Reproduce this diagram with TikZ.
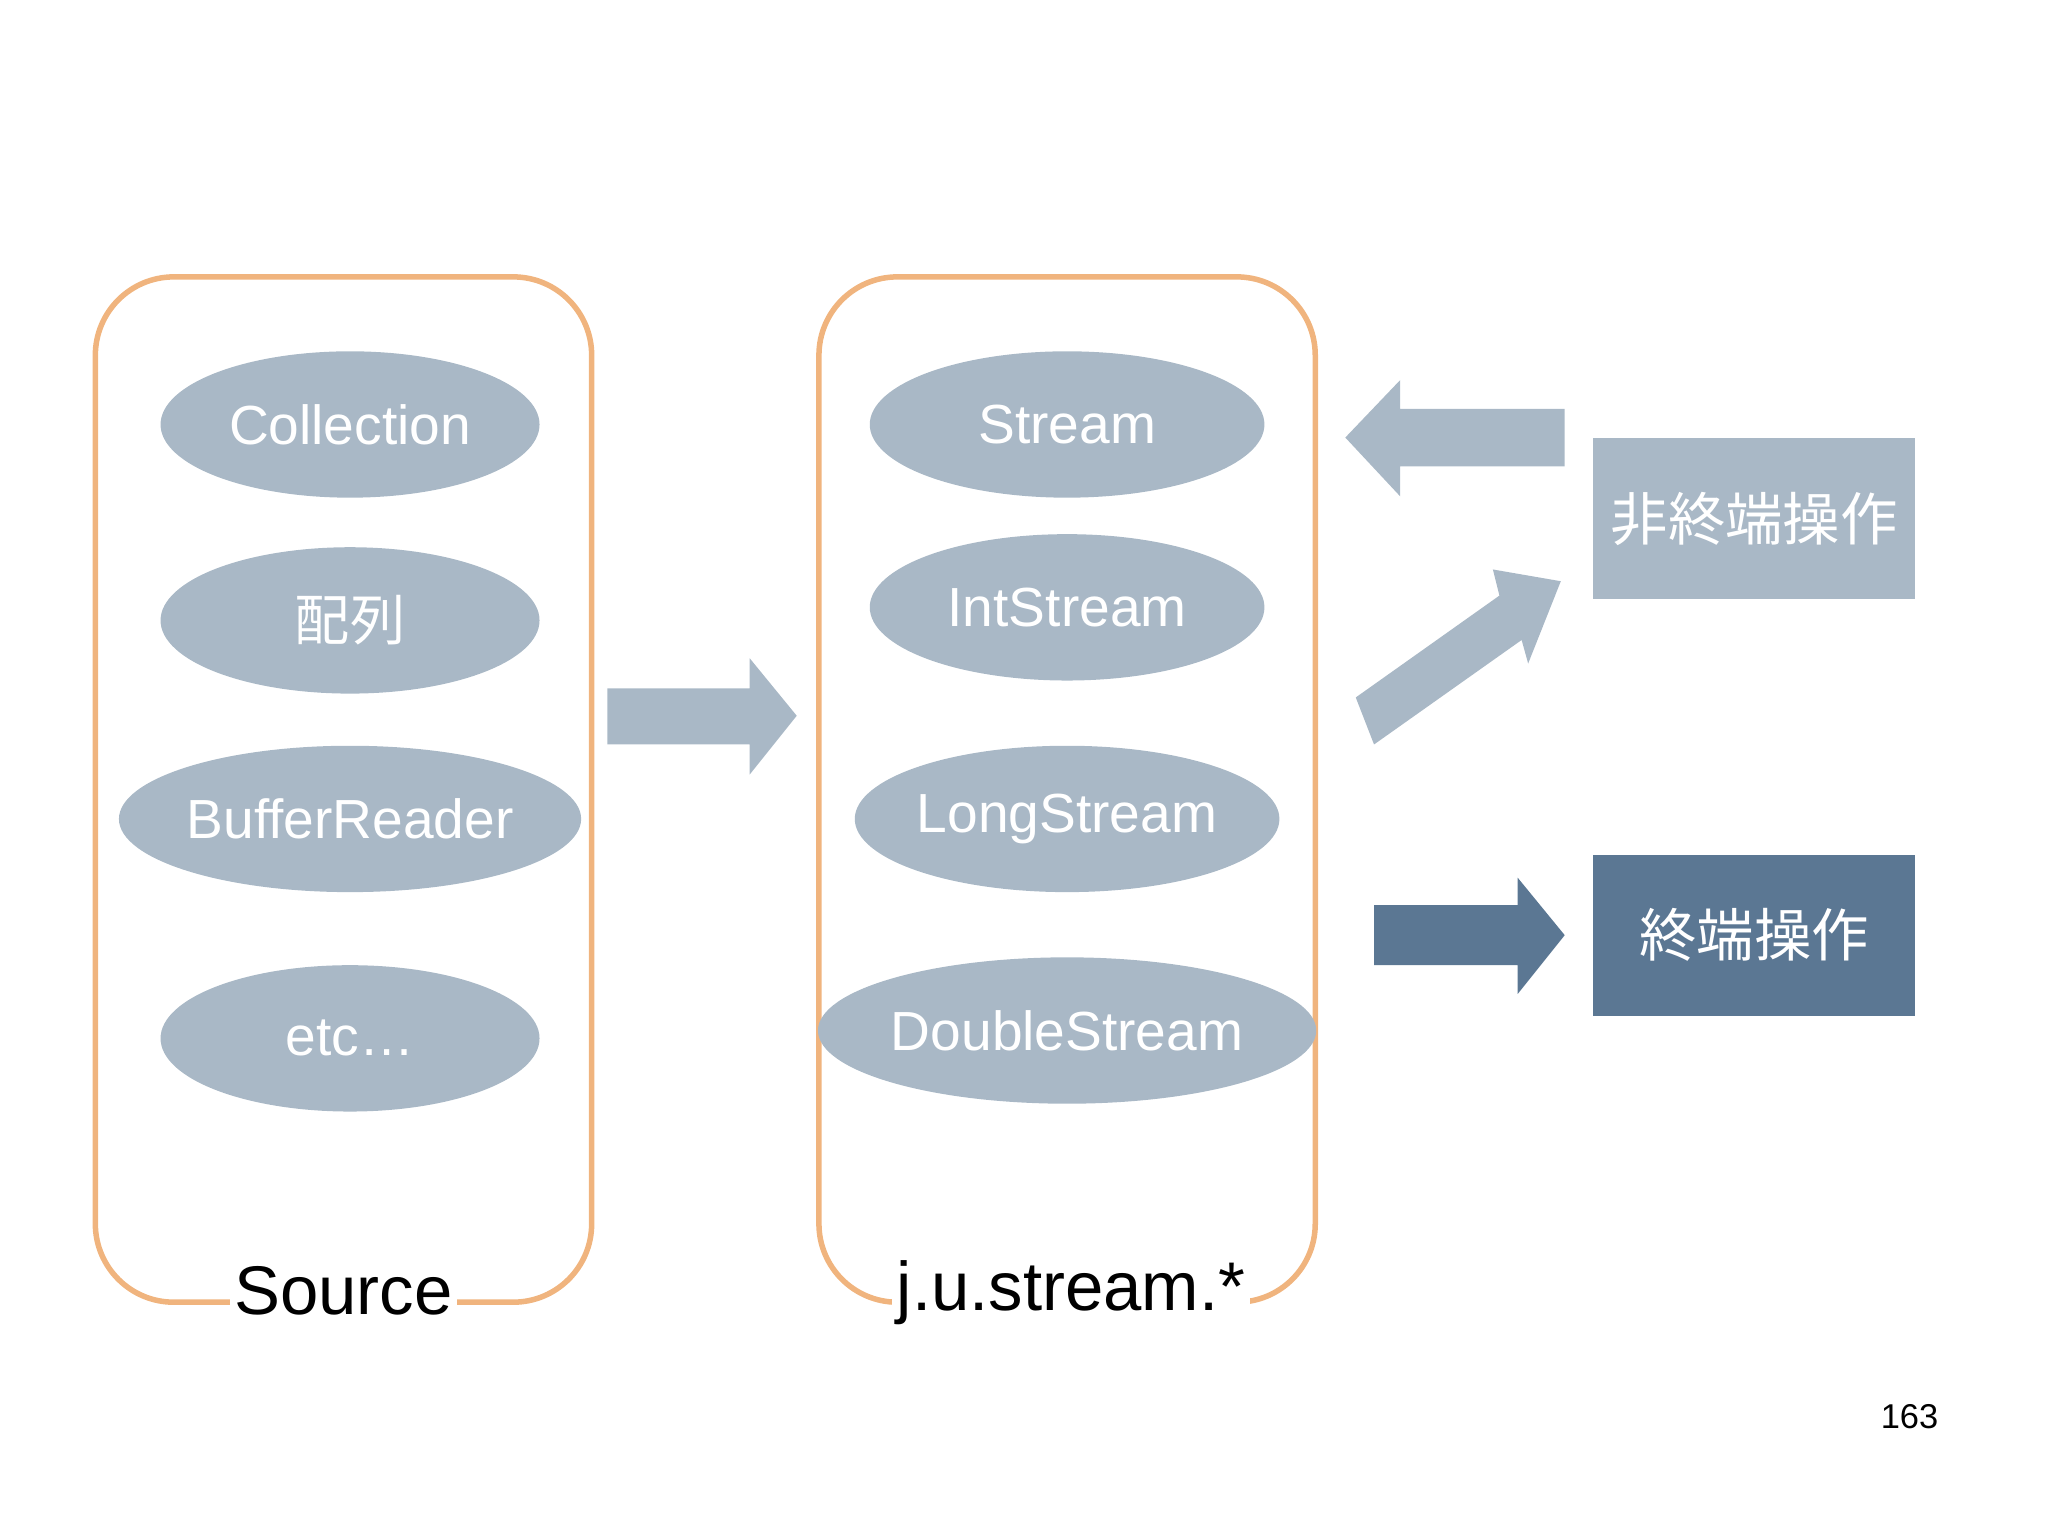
\documentclass[tikz,border=0pt]{standalone}
\usepackage{fontspec}
\setmainfont{Liberation Sans}
\newfontfamily\cjk{Noto Sans CJK JP}
\usetikzlibrary{shapes.geometric}
\definecolor{boxorange}{HTML}{F0B47E}
\definecolor{lightblue}{HTML}{A9B8C6}
\definecolor{darkblue}{HTML}{5B7793}
\tikzset{
  frame/.style={draw=boxorange, line width=1.2pt, rounded corners=0.6cm},
  item/.style={ellipse, fill=lightblue, text=white, font=\fontsize{12}{12}\selectfont, inner sep=0pt},
  op/.style={text=white, font=\cjk\fontsize{12.5}{13}\selectfont, minimum width=2.46cm, minimum height=1.23cm, inner sep=0pt},
  caption/.style={fill=white, font=\fontsize{15}{15}\selectfont, inner sep=1pt}
}
\begin{document}
\begin{tikzpicture}[x=0.01cm, y=-0.01cm]
    \useasboundingbox (0,0) rectangle (1568,1176);

    % source side
    \draw[frame] (73,212) rectangle (453,997);
    \node[caption] (source) at (263,988) {Source};
    \foreach \y/\name/\txt in {325/coll/Collection, 475/arr/{\cjk 配列}, 627/buf/BufferReader, 795/etc/{etc\ldots}}
        \node[item, minimum width=2.9cm, minimum height=1.12cm] (\name) at (268,\y) {\txt};

    % stream side
    \draw[frame] (627,212) rectangle (1007,997);
    \node[caption] (jus) at (820,990) {j.u.stream.*};
    \foreach \y/\name/\txt in {325/st/Stream, 465/ist/IntStream, 627/lst/LongStream, 789/dst/DoubleStream}
        \node[item, minimum width=3.02cm, minimum height=1.12cm] (\name) at (817,\y) {\txt};

    % block arrows
    \fill[lightblue] (465,527) -- (574,527) -- (574,504) -- (610,548) -- (574,593) -- (574,570) -- (465,570) -- cycle;
    \fill[lightblue] (1198,313) -- (1072,313) -- (1072,291) -- (1030,335) -- (1072,380) -- (1072,357) -- (1198,357) -- cycle;
    \fill[lightblue] (1038,534) -- (1148,456) -- (1143,436) -- (1195,445) -- (1170,508) -- (1165,490) -- (1052,570) -- cycle;
    \fill[darkblue] (1052,693) -- (1162,693) -- (1162,672) -- (1198,716) -- (1162,761) -- (1162,739) -- (1052,739) -- cycle;

    % operations
    \node[op, fill=lightblue] (inter) at (1343,397) {非終端操作};
    \node[op, fill=darkblue] (term) at (1343,716) {終端操作};

    \node[font=\fontsize{7.5}{8}\selectfont] (page) at (1462,1085) {163};
\end{tikzpicture}
\end{document}
